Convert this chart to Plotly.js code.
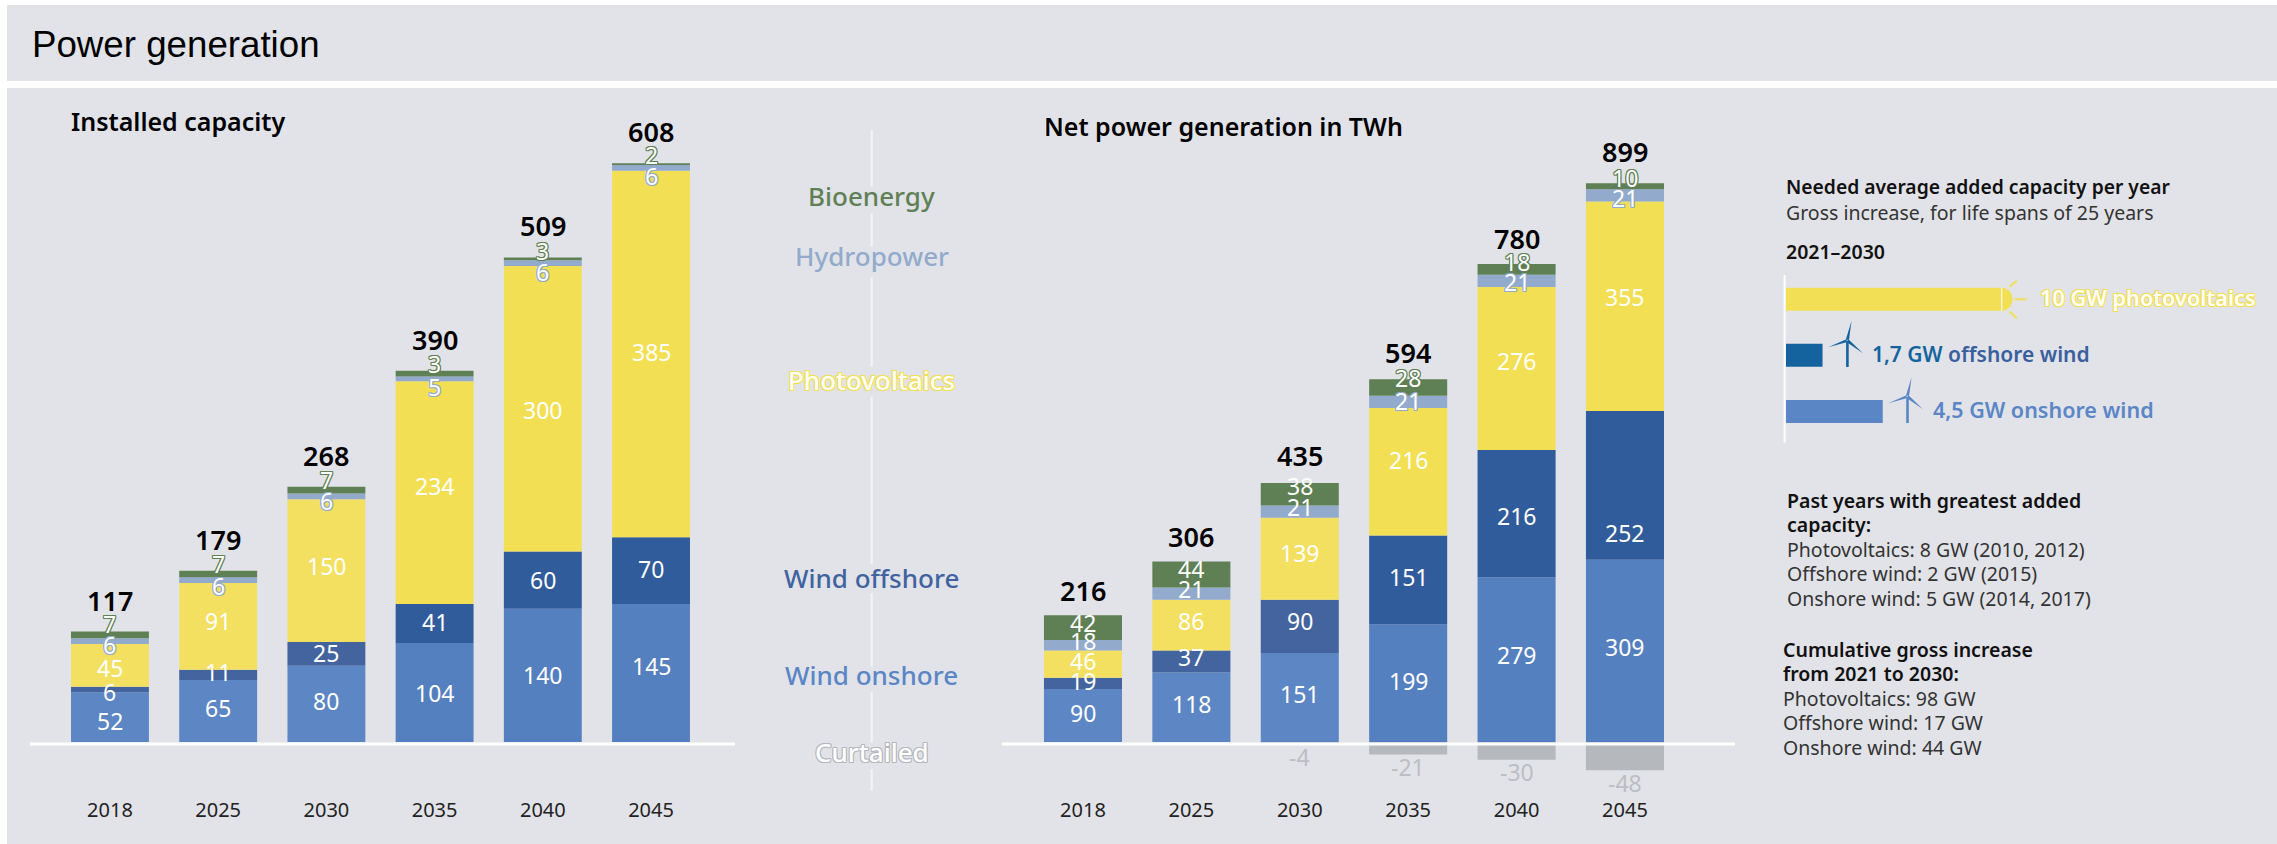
<!DOCTYPE html>
<html><head><meta charset="utf-8">
<script src="https://cdn.plot.ly/plotly-3.0.1.min.js"></script>
<style>html,body{margin:0;padding:0;background:#fff}#c{width:2277px;height:844px}</style>
</head><body><div id="c"></div>
<script>
const years = ['2018','2025','2030','2035','2040','2045'];
// Installed capacity (GW)
const capOnshore  = [52,65,80,104,140,145];
const capOffshore = [6,11,25,41,60,70];
const capPV       = [45,91,150,234,300,385];
const capHydro    = [6,6,6,5,6,6];
const capBio      = [7,7,7,6,3,2];
const capBioLabel = [7,7,7,3,3,2];
const capTotal    = [117,179,268,390,509,608];
// Net generation (TWh)
const genOnshore  = [90,118,151,199,279,309];
const genOffshore = [19,37,90,151,216,252];
const genPV       = [46,86,139,216,276,355];
const genHydro    = [18,21,21,21,21,21];
const genBio      = [42,44,38,28,18,10];
const genCurtail  = [0,0,-4,-21,-30,-48];
const genTotal    = [216,306,435,594,780,899];
// Needed added capacity
const addCats = ['photovoltaics','offshore wind','onshore wind'];
const addVals = [10,1.7,4.5];

// colours
const cOn  = ['#5C86C4','#5C86C4','#5C86C4','#5580C0','#5580C0','#5580C0'];
const cOff = ['#43649F','#43649F','#43649F','#305C9B','#305C9B','#305C9B'];
const cPV  = ['#F3DF60','#F3DF60','#F3DF60','#F3DF54','#F3DF54','#F3DF54'];
const cHy = '#92ABCC', cBio = '#5F8055', cCur = '#B5B8BD', panel = '#E2E3E8', cYel='#F3DF55';

// label nudges in px (positive = up)
const capShift = {
  on:[-4,3,3,0,0,7], off:[-2,3,1,1.5,0,1.5], pv:[-3,5,5,7,-1,2],
  hy:[-4,-6,-5,-8,-9,-8], bio:[11,10,10,10,8,9]
};
const genShift = {
  on:[2.5,3,3,2,5,4], off:[2,4,5,3,-2,-48], pv:[3,4.5,6,11.5,7.5,9.6],
  hy:[4,4.6,4.6,1,-1,-3], bio:[5,5,8,9,7,8], tot:[25,24.5,27,26.5,25.5,32.2]
};

const W=2277,H=844;
const px=v=>v/W, py=v=>1-v/H;
const FONT='"Noto Sans", sans-serif';

function bar(x,y,color,xa,ya,name){
  return {type:'bar',x:x,y:y,name:name,xaxis:xa,yaxis:ya,marker:{color:color,line:{width:0}},hoverinfo:'skip',showlegend:false};
}
const traces=[
  bar(years,capOnshore,cOn,'x','y','Wind onshore'),
  bar(years,capOffshore,cOff,'x','y','Wind offshore'),
  bar(years,capPV,cPV,'x','y','Photovoltaics'),
  bar(years,capHydro,cHy,'x','y','Hydropower'),
  bar(years,capBio,cBio,'x','y','Bioenergy'),
  bar(years,genOnshore,cOn,'x2','y2','Wind onshore'),
  bar(years,genOffshore,cOff,'x2','y2','Wind offshore'),
  bar(years,genPV,cPV,'x2','y2','Photovoltaics'),
  bar(years,genHydro,cHy,'x2','y2','Hydropower'),
  bar(years,genBio,cBio,'x2','y2','Bioenergy'),
  bar(years,genCurtail,cCur,'x2','y2','Curtailed'),
  {type:'bar',orientation:'h',x:addVals,y:addCats,width:0.41,xaxis:'x3',yaxis:'y3',showlegend:false,hoverinfo:'skip',
   marker:{color:[cYel,'#14639E','#5B86C6'],line:{width:0}}}
];

const anns=[];
function stroke(c){const s=[];for(const [a,b] of [[1,0],[-1,0],[0,1],[0,-1],[1,1],[-1,-1],[1,-1],[-1,1]])s.push(`${a}px ${b}px 0.5px ${c}`);return s.join(',');}
function num(xr,yr,x,y,t,shift,opt){
  opt=opt||{};
  const f={family:FONT,size:opt.size||23,color:opt.color||'#fff'};
  if(opt.weight)f.weight=opt.weight;
  if(opt.outline)f.shadow=stroke(opt.outline);
  anns.push({xref:xr,yref:yr,x:x,y:y,text:String(t),showarrow:false,xanchor:'center',yanchor:'middle',yshift:shift||0,font:f});
}
function stackLabels(xr,yr,series,labels,shifts,outlines){
  const base=years.map(()=>0);
  series.forEach((s,k)=>{
    s.forEach((v,i)=>{
      num(xr,yr,i,base[i]+v/2,labels[k][i],shifts[k][i],{outline:outlines[k][i]});
      base[i]+=v;
    });
  });
  return base;
}
const n6=[null,null,null,null,null,null];
const hy6=[cHy,cHy,cHy,cHy,cHy,cHy], bio6=[cBio,cBio,cBio,cBio,cBio,cBio];
const capTop=stackLabels('x','y',
  [capOnshore,capOffshore,capPV,capHydro,capBio],
  [capOnshore,capOffshore,capPV,capHydro,capBioLabel],
  [capShift.on,capShift.off,capShift.pv,capShift.hy,capShift.bio],
  [n6,n6,n6,hy6,bio6]);
capTop.forEach((t,i)=>num('x','y',i,t,capTotal[i],31.5,{color:'#000',size:27,weight:600}));
const genTop=stackLabels('x2','y2',
  [genOnshore,genOffshore,genPV,genHydro,genBio],
  [genOnshore,genOffshore,genPV,genHydro,genBio],
  [genShift.on,genShift.off,genShift.pv,genShift.hy,genShift.bio],
  [n6,n6,n6,[null,null,null,cHy,cHy,cHy],[null,null,null,cBio,cBio,cBio]]);
genTop.forEach((t,i)=>num('x2','y2',i,t,genTotal[i],genShift.tot[i],{color:'#000',size:27,weight:600}));
genCurtail.forEach((v,i)=>{ if(v<0) num('x2','y2',i,v,v,-12.5,{color:'#BBBEC3'}); });

function text(x,y,t,size,color,opt){
  opt=opt||{};
  const f={family:opt.family||FONT,size:size,color:color};
  if(opt.weight)f.weight=opt.weight;
  if(opt.outline)f.shadow=stroke(opt.outline);
  anns.push({xref:'paper',yref:'paper',x:px(x),y:py(y),text:t,showarrow:false,xanchor:opt.anchor||'left',yanchor:'middle',font:f,align:'left',borderpad:0});
}
const subtitleColor='#000';
text(70,121.5,'Installed capacity',25,subtitleColor,{weight:600});
text(1043,125.5,'Net power generation in TWh',25,subtitleColor,{weight:600});

// centre legend
const legendX=871.7;
const legendNames=['Bioenergy','Hydropower','Photovoltaics','Wind offshore','Wind onshore','Curtailed'];
const legendY=[196.5,255.5,379.5,577.5,674.5,751.5];
const legendCol=[cBio,cHy,'#fff','#3F639F','#5B86C6','#fff'];
const legendOut=[null,null,cYel,null,null,'#B5B8BD'];
legendNames.forEach((n,i)=>text(legendX,legendY[i],n,26,legendCol[i],{anchor:'center',outline:legendOut[i],weight:500}));

// right column text
text(1785,186,'Needed average added capacity per year',19.3,'#111',{weight:600});
text(1785,212,'Gross increase, for life spans of 25 years',19.5,'#333');
text(1785,252,'2021–2030',19.5,'#111',{weight:600});
text(2039,298,'10 GW photovoltaics',21.7,'#fff',{weight:600,outline:cYel});
text(1871,354,'<span style="color:#14639E">1,7 GW</span> offshore wind',21,'#3A5F9E',{weight:600});
text(1932,410,'4,5 GW onshore wind',21.5,'#5B86C6',{weight:600});

const pastHead=['Past years with greatest added','capacity:'];
const pastBody=['Photovoltaics: 8 GW (2010, 2012)','Offshore wind: 2 GW (2015)','Onshore wind: 5 GW (2014, 2017)'];
const cumHead=['Cumulative gross increase','from 2021 to 2030:'];
const cumBody=['Photovoltaics: 98 GW','Offshore wind: 17 GW','Onshore wind: 44 GW'];
pastHead.forEach((t,i)=>text(1786,500+24.4*i,t,19.5,'#111',{weight:600}));
pastBody.forEach((t,i)=>text(1786,549.5+24.4*i,t,19.5,'#333'));
cumHead.forEach((t,i)=>text(1782,649+24.4*i,t,19.5,'#111',{weight:600}));
cumBody.forEach((t,i)=>text(1782,698.5+24.4*i,t,19.5,'#333'));

// shapes
const shapes=[];
function rect(x0,y0,x1,y1,c){shapes.push({type:'rect',layer:'below',xref:'paper',yref:'paper',x0:px(x0),x1:px(x1),y0:py(y0),y1:py(y1),fillcolor:c,line:{width:0}});}
function line(x0,y0,x1,y1,c,w,layer){shapes.push({type:'line',layer:layer||'above',xref:'paper',yref:'paper',x0:px(x0),x1:px(x1),y0:py(y0),y1:py(y1),line:{color:c,width:w}});}
function pathPx(pts,c){ // polygon in page pixels
  const d=pts.map((p,i)=>(i?'L':'M')+px(p[0]).toFixed(6)+','+py(p[1]).toFixed(6)).join(' ')+' Z';
  shapes.push({type:'path',xref:'paper',yref:'paper',path:d,fillcolor:c,line:{width:0},layer:'above'});
}
rect(7,5,W,81,panel);
rect(7,88,W,H,panel);
// baselines
line(30,744,735,744,'#fff',3);
line(1002,744,1735,744,'#fff',3);
// centre divider, broken by legend labels
[[130,186.7],[213,246.7],[277,366.7],[396.7,564],[593,666.7],[691.7,742.7],[769,790.7]].forEach(s=>line(legendX,s[0],legendX,s[1],'#F4F4F6',2));
// right column rule
line(1784.6,275,1784.6,442.6,'#fff',2);
// sun
const sun=[];
for(let a=-90;a<=90;a+=10){sun.push([2002+10.5*Math.cos(a*Math.PI/180),299.2+11.5*Math.sin(a*Math.PI/180)]);}
pathPx(sun,cYel);
line(2001.7,287.7,2001.7,310.7,'#FBF7DC',1.2);
line(2009.4,286.7,2017,280.7,cYel,2);
line(2014.5,299.3,2026.5,299.3,cYel,2);
line(2009.4,311.5,2017,318.3,cYel,2);
// turbines
function turbine(hx,hy,c){
  line(hx,hy,hx,hy+26.3,c,2.6);
  pathPx([[hx-1.6,hy-1],[hx+4.1,hy-19.7],[hx+1.6,hy-1]],c);
  pathPx([[hx-1,hy-1.5],[hx-19.2,hy+6.6],[hx-1,hy+1.5]],c);
  pathPx([[hx+1,hy-1.5],[hx+15.5,hy+12.6],[hx-0.5,hy+1.5]],c);
}
turbine(1847.4,340.7,'#14639E');
turbine(1907.5,396.7,'#5B86C6');

const bgap=0.28, yBottom=795.5;
const yd=[py(yBottom),py(100)];
const layout={
  width:W,height:H,margin:{l:0,r:0,t:0,b:0},paper_bgcolor:'#fff',plot_bgcolor:'rgba(0,0,0,0)',
  barmode:'relative',bargap:bgap,showlegend:false,
  title:{text:'Power generation',x:px(32),xref:'paper',xanchor:'left',y:py(44),yref:'paper',yanchor:'middle',
         font:{family:'"Liberation Sans", Arial, sans-serif',size:36.7,color:'#000'}},
  xaxis:{domain:[px(30),px(735)],range:[-0.739,5.776],type:'category',anchor:'y',showgrid:false,zeroline:false,showline:false,ticks:'',
         tickfont:{family:FONT,size:20,color:'#222'},fixedrange:true},
  yaxis:{domain:yd,range:[-(yBottom-742)/0.952,(742-100)/0.952],showgrid:false,zeroline:false,showline:false,showticklabels:false,ticks:'',anchor:'x',fixedrange:true},
  xaxis2:{domain:[px(1002),px(1735)],range:[-0.747,6.015],type:'category',anchor:'y2',showgrid:false,zeroline:false,showline:false,ticks:'',
         tickfont:{family:FONT,size:20,color:'#222'},fixedrange:true},
  yaxis2:{domain:yd,range:[-(yBottom-742)/0.59,(742-100)/0.59],showgrid:false,zeroline:false,showline:false,showticklabels:false,ticks:'',anchor:'x2',fixedrange:true},
  xaxis3:{domain:[px(1786),px(2267)],range:[0,481/21.5],anchor:'y3',showgrid:false,zeroline:false,showline:false,showticklabels:false,ticks:'',fixedrange:true},
  yaxis3:{domain:[py(455),py(260)],type:'category',range:[2.777,-0.699],anchor:'x3',showgrid:false,zeroline:false,showline:false,showticklabels:false,ticks:'',fixedrange:true},
  annotations:anns,shapes:shapes
};
Plotly.newPlot('c',traces,layout,{displayModeBar:false,staticPlot:true});
</script></body></html>
